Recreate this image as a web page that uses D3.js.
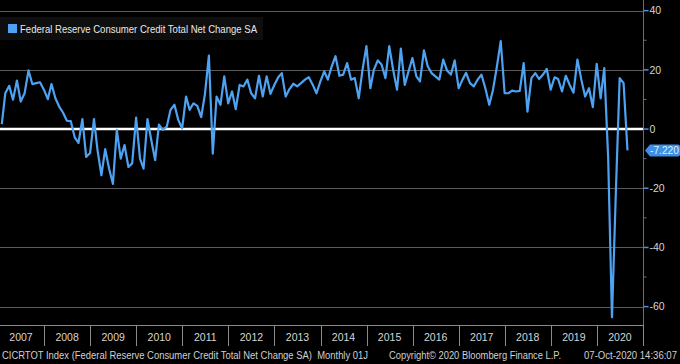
<!DOCTYPE html>
<html><head><meta charset="utf-8">
<script src="https://cdn.jsdelivr.net/npm/d3@7"></script>
<style>html,body{margin:0;padding:0;background:#000;}svg{display:block;}</style>
</head><body>
<svg id="c" width="680" height="364"></svg>
<script>
const seriesName = "Federal Reserve Consumer Credit Total Net Change SA";
const startMonth = "2007-01";
const values = [
 1.7,12.1,14.6,9.9,16.4,9.3,12.1,19.8,15.2,15.5,15.8,13.3,
 10.1,15.2,10.4,7.6,5.5,2.8,2.7,-2.8,-4.7,3.4,-9.4,-8.1,
 3.4,-7.1,-15.6,-6.8,-13.4,-18.5,-0.3,-10,-5.4,-12.8,-11.6,3.9,
 -10,-13.4,3.4,-3.7,-10.5,1.5,-0.3,0.8,6.5,8.2,3.1,0.2,
 11,6.5,8.7,7.8,4,11.9,24.8,-8.3,11,8.2,17.8,8.7,
 12.7,6.7,14.9,14.4,16.7,12.1,10.4,18,11,17.8,11.9,14.9,
 17.5,18.9,11,13.5,15.3,14.4,15.5,16.7,17.5,15,12.1,16.1,
 19.5,16.7,21.2,24.6,18,18.4,22.3,16.7,17.2,10.4,20,28,
 13.8,20,23.2,21.8,17.2,28,20,13.3,27.2,14.9,19.5,24,
 17.8,16.1,26.6,21.2,18.9,17.8,16.7,23.5,19.8,18.4,23.2,13.8,
 16.7,19,15.5,14.4,16.7,18.4,13.8,8.2,13.3,21.2,29.7,12.1,
 12.1,13,12.7,12.9,22.3,5.9,17.2,18.9,16.9,18.4,20.3,13.3,
 17.5,16.9,12.7,18,14.9,12.3,23.5,16.7,11,13.8,7.4,22,
 10.4,20.6,-10,-63.6,-21,17.2,15.5,-7.22
];
const years = [2007,2008,2009,2010,2011,2012,2013,2014,2015,2016,2017,2018,2019,2020];
const yTicks = [40,20,0,-20,-40,-60];
const yMinorTicks = [30,10,-10,-30,-50];
const lastLabel = "-7.220";
const footerLeft = "CICRTOT Index (Federal Reserve Consumer Credit Total Net Change SA)  Monthly 01J";
const footerMid = "Copyright\u00A9 2020 Bloomberg Finance L.P.";
const footerRight = "07-Oct-2020 14:36:07";

const svg = d3.select("#c");
const W = 680, H = 364;
const plotRight = 643, plotBottom = 325;
const lineColor = "#4ea2f2";

svg.append("rect").attr("width", W).attr("height", H).attr("fill", "#000");

const [sy, sm] = startMonth.split("-").map(Number);
const data = values.map((v, i) => ({ date: new Date(sy, sm - 1 + i + 1, 0), value: v }));

const x = d3.scaleTime()
  .domain([new Date(years[0], 0, 1), new Date(years[years.length - 1] + 1, 0, 1)])
  .range([-2, plotRight]);
const y = d3.scaleLinear().domain([-66.2, 43.6]).range([plotBottom, 0]);

// gridlines
svg.append("g").selectAll("line").data(yTicks.filter(d => d !== 0)).join("line")
  .attr("x1", 0).attr("x2", plotRight)
  .attr("y1", d => Math.round(y(d)) + 0.5).attr("y2", d => Math.round(y(d)) + 0.5)
  .attr("stroke", "#5a5a5a").attr("stroke-width", 1);

// legend
const lg = svg.append("g");
lg.append("rect").attr("x", 0).attr("y", 17).attr("width", 263).attr("height", 23).attr("fill", "#0e0e0e");
lg.append("rect").attr("x", 8).attr("y", 24).attr("width", 9).attr("height", 9).attr("fill", lineColor);
lg.append("text").attr("x", 20).attr("y", 33).attr("fill", "#e8e8e8")
  .attr("font-family", "Liberation Sans, Arial, sans-serif").attr("font-size", 10.5)
  .attr("textLength", 237).attr("lengthAdjust", "spacingAndGlyphs").text(seriesName);

// zero line
svg.append("line").attr("x1", 0).attr("x2", plotRight)
  .attr("y1", y(0)).attr("y2", y(0)).attr("stroke", "#ffffff").attr("stroke-width", 2.5);

// series line
svg.append("defs").append("clipPath").attr("id", "clip")
  .append("rect").attr("x", 0).attr("y", 0).attr("width", plotRight).attr("height", plotBottom);
svg.append("path").datum(data)
  .attr("clip-path", "url(#clip)")
  .attr("fill", "none").attr("stroke", lineColor).attr("stroke-width", 2.2)
  .attr("stroke-linejoin", "round")
  .attr("d", d3.line().x(d => x(d.date)).y(d => y(d.value)));

// right axis
const ax = svg.append("g").attr("transform", `translate(${plotRight + 0.5},0)`);
ax.append("line").attr("x1", 0).attr("x2", 0).attr("y1", 0).attr("y2", plotBottom)
  .attr("stroke", "#5d6f8c").attr("stroke-width", 1);
ax.selectAll("line.mn").data(yMinorTicks).join("line").attr("class", "mn")
  .attr("x1", 0).attr("x2", 3).attr("y1", d => y(d)).attr("y2", d => y(d))
  .attr("stroke", "#5d6f8c");
ax.selectAll("line.mj").data(yTicks).join("line").attr("class", "mj")
  .attr("x1", 0).attr("x2", 5).attr("y1", d => y(d)).attr("y2", d => y(d))
  .attr("stroke", "#4e8fe0").attr("stroke-width", 1.5);
ax.selectAll("text").data(yTicks).join("text")
  .attr("x", 6).attr("y", d => y(d) + 3.8)
  .attr("fill", "#d6d6d6").attr("font-family", "Liberation Sans, Arial, sans-serif")
  .attr("font-size", 10.5).text(d => d);

// last value tag
const last = data[data.length - 1];
const ty = y(last.value);
const tag = svg.append("g").attr("transform", `translate(645,${ty})`);
tag.append("path")
  .attr("d", "M0,0 L5,-6 L33,-6 Q35,-6 35,-4 L35,4 Q35,6 33,6 L5,6 Z")
  .attr("fill", "#3e8fe6");
tag.append("text").attr("x", 5).attr("y", 4).attr("fill", "#dcefff")
  .attr("font-family", "Liberation Sans, Arial, sans-serif").attr("font-size", 10.5)
  .attr("textLength", 29).attr("lengthAdjust", "spacingAndGlyphs").text(lastLabel);

// bottom axis
const bx = svg.append("g");
bx.append("line").attr("x1", 0).attr("x2", plotRight + 0.5).attr("y1", plotBottom + 0.5).attr("y2", plotBottom + 0.5)
  .attr("stroke", "#8a8a8a");
const seps = years.slice(1).map(yr => new Date(yr, 0, 1)).concat([new Date(years[years.length - 1] + 1, 0, 1)]);
bx.selectAll("line.sep").data(seps).join("line").attr("class", "sep")
  .attr("x1", d => Math.round(x(d)) + 0.5).attr("x2", d => Math.round(x(d)) + 0.5)
  .attr("y1", plotBottom).attr("y2", 346).attr("stroke", "#8a8a8a");
bx.selectAll("text").data(years).join("text")
  .attr("x", yr => (x(new Date(yr, 0, 1)) + x(new Date(yr + 1, 0, 1))) / 2)
  .attr("y", 341).attr("text-anchor", "middle")
  .attr("fill", "#d6d6d6").attr("font-family", "Liberation Sans, Arial, sans-serif")
  .attr("font-size", 10.5).text(d => d);

// footer
const ft = svg.append("g").attr("fill", "#d0d0d0")
  .attr("font-family", "Liberation Sans, Arial, sans-serif").attr("font-size", 10);
ft.append("text").attr("x", 2).attr("y", 359).attr("textLength", 366).attr("lengthAdjust", "spacingAndGlyphs")
  .attr("xml:space", "preserve").style("white-space", "pre").text(footerLeft);
ft.append("text").attr("x", 389).attr("y", 359).attr("textLength", 172).attr("lengthAdjust", "spacingAndGlyphs").text(footerMid);
ft.append("text").attr("x", 584).attr("y", 359).attr("textLength", 93).attr("lengthAdjust", "spacingAndGlyphs").text(footerRight);
</script>
</body></html>
